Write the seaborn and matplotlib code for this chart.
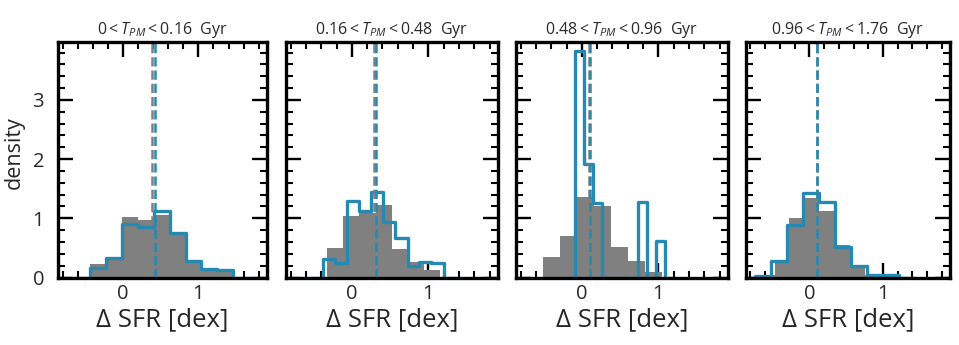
import numpy as np
import pandas as pd
import matplotlib
matplotlib.use("Agg")
import matplotlib.pyplot as plt
from matplotlib.ticker import MultipleLocator
import seaborn as sns

# ---------------- data ----------------
titles = [r"$0 < T_{PM} < 0.16$  Gyr",
          r"$0.16 < T_{PM} < 0.48$  Gyr",
          r"$0.48 < T_{PM} < 0.96$  Gyr",
          r"$0.96 < T_{PM} < 1.76$  Gyr"]

gray_edges_1 = [-0.43, -0.22, -0.01, 0.20, 0.41, 0.62, 0.83, 1.04, 1.25, 1.46]
gray_dens_1 = [0.23, 0.30, 1.03, 0.97, 1.06, 0.75, 0.30, 0.12, 0.09]
blue_edges_1 = [-0.43, -0.22, -0.01, 0.20, 0.41, 0.62, 0.83, 1.04, 1.25, 1.46]
blue_dens_1 = [0.16, 0.33, 0.90, 0.85, 1.12, 0.75, 0.28, 0.14, 0.13]

gray_edges_2 = [-0.32, -0.11, 0.10, 0.31, 0.52, 0.73, 0.94, 1.15]
gray_dens_2 = [0.50, 1.04, 1.09, 1.23, 0.49, 0.27, 0.13]
blue_edges_2 = [-0.38, -0.22, -0.06, 0.10, 0.25, 0.41, 0.57, 0.73, 0.88, 1.04, 1.20]
blue_dens_2 = [0.31, 0.24, 1.30, 1.13, 1.45, 0.94, 0.66, 0.20, 0.27, 0.24]

gray_edges_3 = [-0.51, -0.288, -0.066, 0.156, 0.378, 0.60, 0.822, 1.044]
gray_dens_3 = [0.34, 0.70, 1.36, 1.20, 0.51, 0.28, 0.10]
blue_edges_3 = [-0.086, 0.031, 0.148, 0.265, 0.382, 0.499, 0.616, 0.733, 0.850, 0.967, 1.084]
blue_dens_3 = [3.83, 1.91, 1.26, 0.0, 0.0, 0.0, 0.0, 1.27, 0.0, 0.62]

gray_edges_4 = [-0.67, -0.47, -0.27, -0.07, 0.135, 0.34, 0.55, 0.76, 0.96]
gray_dens_4 = [0.04, 0.30, 1.01, 1.34, 1.12, 0.55, 0.18, 0.04]
blue_edges_4 = [-0.74, -0.522, -0.304, -0.086, 0.132, 0.35, 0.568, 0.786, 1.004, 1.222]
blue_dens_4 = [0.03, 0.28, 0.89, 1.43, 1.27, 0.51, 0.19, 0.04, 0.04]

gray_median = [0.39, 0.29, 0.09, 0.10]
blue_median = [0.43, 0.31, 0.11, 0.11]

gray_edges = [gray_edges_1, gray_edges_2, gray_edges_3, gray_edges_4]
gray_dens = [gray_dens_1, gray_dens_2, gray_dens_3, gray_dens_4]
blue_edges = [blue_edges_1, blue_edges_2, blue_edges_3, blue_edges_4]
blue_dens = [blue_dens_1, blue_dens_2, blue_dens_3, blue_dens_4]

# ---------------- style ----------------
sns.set_theme(style="white")
plt.rcParams["font.family"] = ["Open Sans", "DejaVu Sans"]
plt.rcParams["mathtext.fontset"] = "custom"
plt.rcParams["mathtext.rm"] = "Open Sans"
plt.rcParams["mathtext.it"] = "Open Sans:italic"
TXT = "#2a2a2a"
plt.rcParams["text.color"] = TXT

GRAY = "#808080"
BLUE = "#2589b2"

W, H = 959, 345
fig = plt.figure(figsize=(W / 100, H / 100), dpi=100)
xpix = [(58, 267), (286, 498), (516, 728), (746, 950)]
top_px, bot_px = 42, 277.5


def hist_frame(edges, dens, close=False):
    # optional empty bin at each end so the outline returns to zero
    e = list(edges)
    d = list(dens)
    if close:
        e = [e[0] - (e[1] - e[0])] + e + [e[-1] + (e[-1] - e[-2])]
        d = [0.0] + d + [0.0]
    e = np.asarray(e, dtype=float)
    return pd.DataFrame({"x": (e[:-1] + e[1:]) / 2, "w": np.asarray(d, dtype=float)}), list(e)


for i in range(4):
    l, r = xpix[i]
    ax = fig.add_axes([l / W, 1 - bot_px / H, (r - l) / W, (bot_px - top_px) / H])
    gdf, gbins = hist_frame(gray_edges[i], gray_dens[i])
    sns.histplot(data=gdf, x="x", weights="w", bins=gbins, stat="count",
                 element="step", fill=True, color=GRAY, alpha=1.0,
                 linewidth=0, ax=ax)
    bdf, bbins = hist_frame(blue_edges[i], blue_dens[i], close=True)
    sns.histplot(data=bdf, x="x", weights="w", bins=bbins, stat="count",
                 element="step", fill=False, color=BLUE, linewidth=2.4, ax=ax)
    ax.axvline(gray_median[i], color=GRAY, ls="--", lw=1.8)
    ax.axvline(blue_median[i], color=BLUE, ls="--", lw=1.8)

    ax.set_xlim(-0.86, 1.91)
    ax.set_ylim(0, 3.98)
    ax.xaxis.set_major_locator(MultipleLocator(1))
    ax.xaxis.set_minor_locator(MultipleLocator(0.2))
    ax.yaxis.set_major_locator(MultipleLocator(1))
    ax.yaxis.set_minor_locator(MultipleLocator(0.2))
    ax.tick_params(which="both", direction="in", top=True, right=True,
                   bottom=True, left=True, color="black", labelcolor=TXT)
    ax.tick_params(which="major", length=10.5, width=1.7, labelsize=14.5, pad=5)
    ax.tick_params(which="minor", length=5, width=1.5)
    ax.tick_params(axis="y", which="major", pad=10)
    for s in ax.spines.values():
        s.set_linewidth(2.4)
        s.set_color("black")
        s.set_visible(True)
    ax.set_xlabel("Δ SFR [dex]", fontsize=18.5, labelpad=2)
    ax.set_title(titles[i], fontsize=11.5, pad=6)
    if i == 0:
        ax.set_ylabel("density", fontsize=15.5)
        ax.yaxis.set_label_coords(-0.16, 0.53)
    else:
        ax.set_ylabel("")
        ax.tick_params(axis="y", labelleft=False)

fig.savefig("out.png", dpi=100)
